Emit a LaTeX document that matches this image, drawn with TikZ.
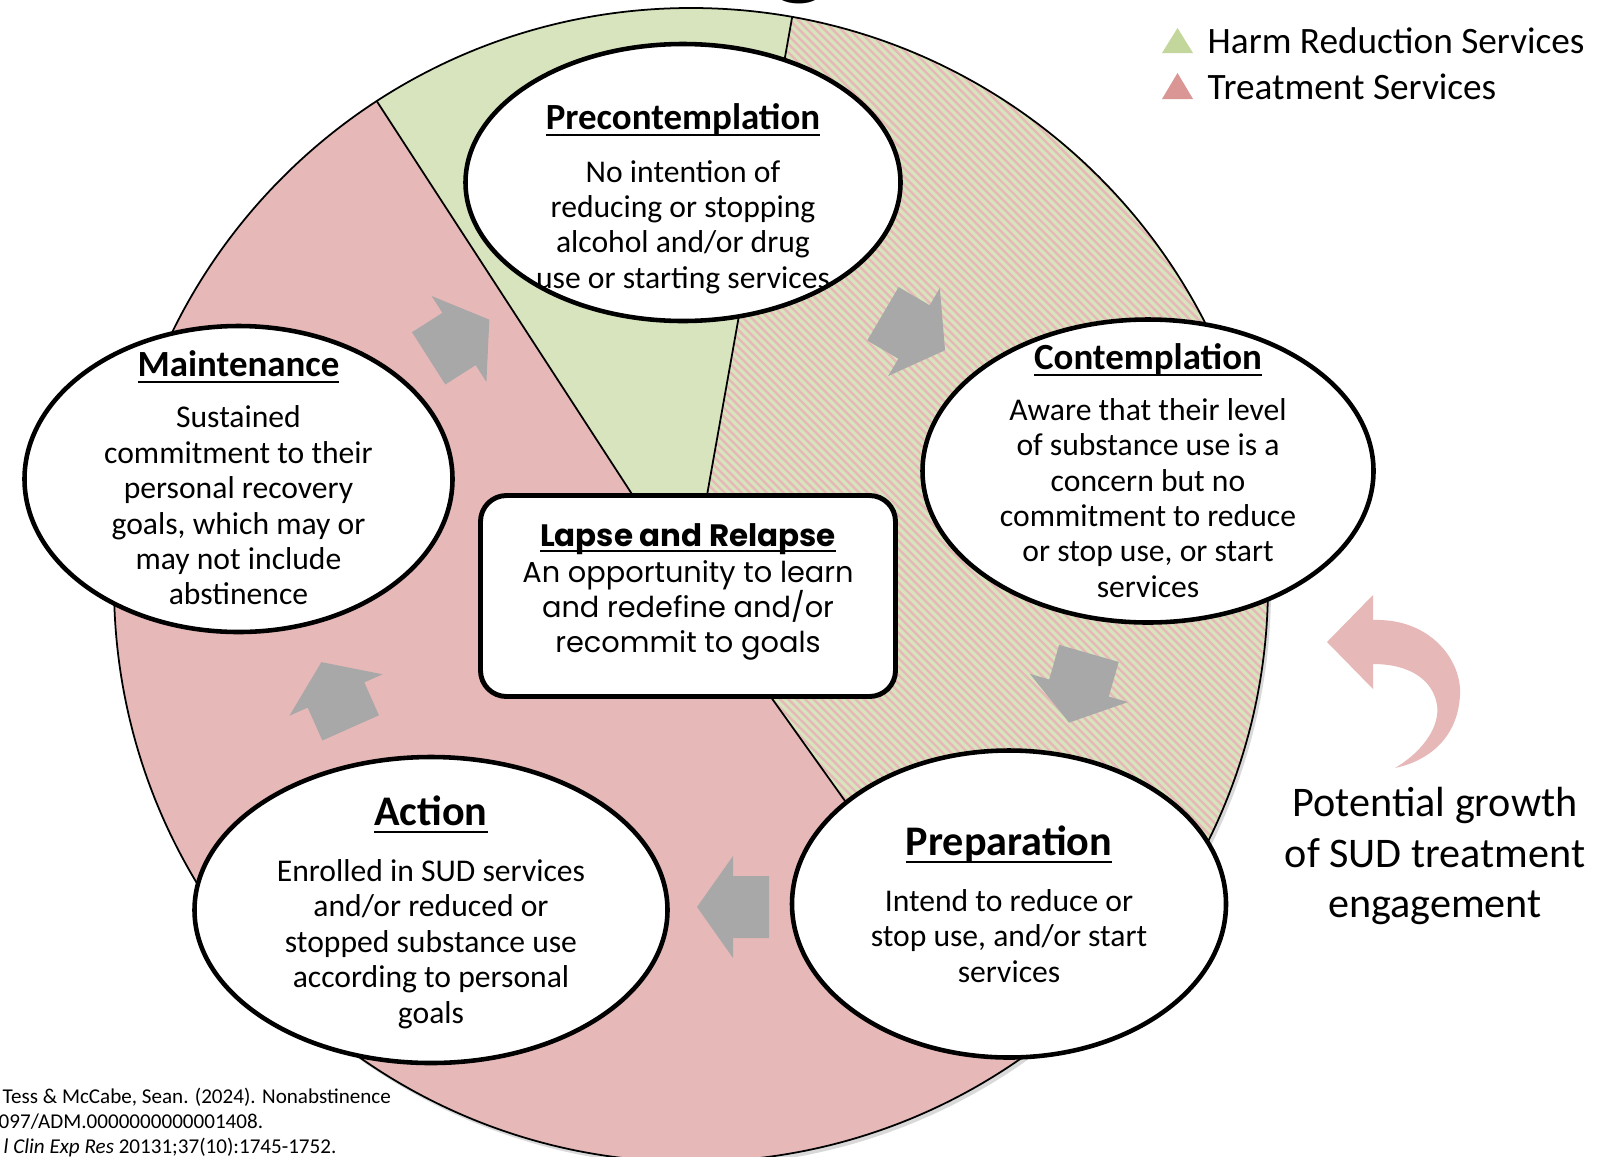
\documentclass[tikz,border=0pt]{standalone}
\usepackage{fontspec}
\setmainfont{Carlito}
\newfontfamily\gothicfont{Poppins}
\usetikzlibrary{calc,shapes.geometric}
\definecolor{pinkfill}{HTML}{E6B9B8}
\definecolor{greenfill}{HTML}{D7E4BD}
\definecolor{pinktri}{HTML}{D99694}
\definecolor{greentri}{HTML}{C3D69B}
\definecolor{arrowgray}{HTML}{A8A8A8}
\def\blockarrow(#1)(#2){\fill[color=arrowgray, shift={(#1)}, rotate=#2] (-36, -31) -- (0, -31) -- (0, -51) -- (36, 0) -- (0, 51) -- (0, 31) -- (-36, 31) -- cycle;}
\def\ulword#1{\setbox0\hbox{#1}\rlap{\rule[-0.2em]{\wd0}{0.07em}}\box0}

\begin{document}
\begin{tikzpicture}[x=0.1mm, y=-0.1mm,
		stage/.style={ellipse, draw=black, line width=1.3pt, fill=white, inner sep=0pt},
		heading/.style={anchor=base, inner sep=0pt, font=\bfseries\fontsize{10.5}{12}\selectfont},
		bigheading/.style={anchor=base, inner sep=0pt, font=\bfseries\fontsize{12}{14}\selectfont},
		body/.style={align=center, inner sep=0pt, font=\fontsize{9}{10.07}\selectfont}]
			%%%%% START %%%%%
			
			\useasboundingbox (0, 0) rectangle (1598, 1156);
			\fill[white] (0, 0) rectangle (1598, 1156);
			\coordinate (C) at (691, 585);
			
			% wheel
			\fill[black, opacity=0.15] (694, 589) circle (577);
			\fill[pinkfill] (C) -- ++(-123:577) arc[start angle=-123, end angle=-305.5, radius=577] -- cycle;
			\fill[greenfill] (C) -- ++(-79.9:577) arc[start angle=-79.9, end angle=-123, radius=577] -- cycle;
			\fill[greenfill] (C) -- ++(54.5:577) arc[start angle=54.5, end angle=-79.9, radius=577] -- cycle;
			\begin{scope}
				\clip (C) -- ++(54.5:577) arc[start angle=54.5, end angle=-79.9, radius=577] -- cycle;
				\foreach \k in {-60,...,145}
					\draw[pinkfill, line width=0.7pt] (\k*8.4 - 9, -115) -- ++(1400, 1400);
			\end{scope}
			\draw[line width=0.5pt] (C) circle (577);
			\draw[line width=0.5pt] (C) -- ++(-123:577);
			\draw[line width=0.5pt] (C) -- ++(-79.9:577);
			\draw[line width=0.5pt] (C) -- ++(54.5:577);
			
			% grey arrows
			\blockarrow(459, 339)(32.5);
			\blockarrow(914, 332)(-30.4);
			\blockarrow(1079, 688)(-106);
			\blockarrow(733, 907)(180);
			\blockarrow(336, 695)(114);
			
			% growth arrow
			\fill[pinkfill] (1373, 620) .. controls (1430, 618) and (1462, 660) .. (1460, 695) .. controls (1458, 735) and (1432, 760) .. (1395, 768) .. controls (1425, 750) and (1440, 725) .. (1437, 705) .. controls (1433, 680) and (1410, 664) .. (1373, 664) -- (1373, 689) -- (1327, 642) -- (1373, 595) -- cycle;
			
			% stages
			\node[stage, minimum width=43.5mm, minimum height=27.7mm] (pre) at (683, 182.5) {};
			\node[stage, minimum width=45.1mm, minimum height=30.3mm] (con) at (1148, 471) {};
			\node[stage, minimum width=43.4mm, minimum height=30.7mm] (prep) at (1009, 904) {};
			\node[stage, minimum width=47.3mm, minimum height=30.6mm] (act) at (431, 910) {};
			\node[stage, minimum width=42.8mm, minimum height=30.6mm] (main) at (238.5, 479) {};
			\node[draw=black, line width=1.4pt, fill=white, rounded corners=2.6mm, minimum width=41.5mm, minimum height=20.1mm, inner sep=0pt] (lapse) at (688, 596) {};
			
			\node[heading] (pre-title) at (683, 129) {\ulword{Precontemplation}};
			\node[body] (pre-text) at (683, 227) {No intention of\\reducing or stopping\\alcohol and/or drug\\use or starting services};
			
			\node[heading] (con-title) at (1148, 369) {\ulword{Contemplation}};
			\node[body] (con-text) at (1148, 498) {Aware that their level\\of substance use is a\\concern but no\\commitment to reduce\\or stop use, or start\\services};
			
			\node[bigheading] (prep-title) at (1009, 855) {\ulword{Preparation}};
			\node[body] (prep-text) at (1009, 936) {Intend to reduce or\\stop use, and/or start\\services};
			
			\node[bigheading] (act-title) at (431, 825) {\ulword{Action}};
			\node[body] (act-text) at (431, 944) {Enrolled in SUD services\\and/or reduced or\\stopped substance use\\according to personal\\goals};
			
			\node[heading] (main-title) at (238.5, 376) {\ulword{Maintenance}};
			\node[body] (main-text) at (238.5, 505.5) {Sustained\\commitment to their\\personal recovery\\goals, which may or\\may not include\\abstinence};
			
			\node[anchor=base, inner sep=0pt, font=\gothicfont\bfseries\fontsize{8.8}{11}\selectfont] (lapse-title) at (688, 546) {\ulword{Lapse and Relapse}};
			\node[align=center, inner sep=0pt, font=\gothicfont\fontsize{8.2}{9.96}\selectfont] (lapse-text) at (688, 610) {An opportunity to learn\\and redefine and/or\\recommit to goals};
			
			% legend
			\fill[greentri] (1162, 53) -- (1193, 53) -- (1177.5, 28) -- cycle;
			\fill[pinktri] (1162, 99) -- (1193, 99) -- (1177.5, 73) -- cycle;
			\node[anchor=base west, inner sep=0pt, font=\fontsize{10.6}{12}\selectfont] (harm) at (1207, 53) {Harm Reduction Services};
			\node[anchor=base west, inner sep=0pt, font=\fontsize{10.6}{12}\selectfont] (treat) at (1207, 99) {Treatment Services};
			
			\node[align=center, inner sep=0pt, font=\fontsize{12}{14.5}\selectfont] (growth) at (1435, 856) {Potential growth\\of SUD treatment\\engagement};
			
			% cut-off title and source lines
			\node[anchor=base, inner sep=0pt, font=\bfseries\fontsize{36}{40}\selectfont] (head-g) at (800, -18) {g};
			\node[anchor=base west, inner sep=0pt, font=\fontsize{6}{7.1}\selectfont] (src-a) at (2, 1103) {Tess \& McCabe, Sean. (2024). Nonabstinence};
			\node[anchor=base west, inner sep=0pt, font=\fontsize{6}{7.1}\selectfont] (src-b) at (-2, 1128) {097/ADM.0000000000001408.};
			\node[anchor=base west, inner sep=0pt, font=\fontsize{6}{7.1}\selectfont] (src-c) at (3, 1153) {\textit{l Clin Exp Res} 20131;37(10):1745-1752.};
			
			%%%%% END %%%%%
		\end{tikzpicture}
\end{document}
